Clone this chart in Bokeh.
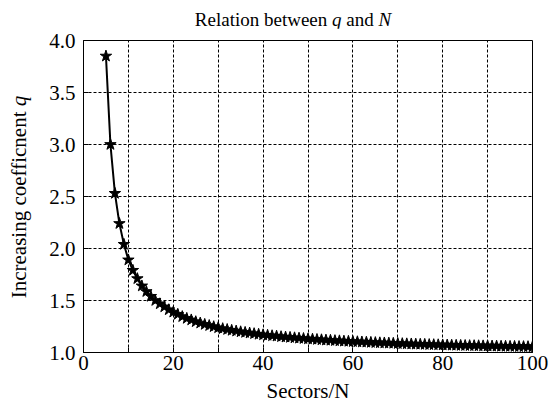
from bokeh.plotting import figure
from bokeh.models import ColumnDataSource, FixedTicker, Div
from bokeh.layouts import column, row
from bokeh.embed import file_html
from bokeh.resources import INLINE

# ---- data ----
sectors = list(range(5, 101))
q_values = [
    3.85, 3.00, 2.53, 2.24, 2.04, 1.89, 1.79, 1.71, 1.64, 1.586,
    1.54, 1.50, 1.468, 1.439, 1.411, 1.388, 1.367, 1.345, 1.328, 1.313,
    1.296, 1.283, 1.270, 1.259, 1.248, 1.238, 1.229, 1.221, 1.213, 1.206,
    1.199, 1.193, 1.187, 1.181, 1.175, 1.170, 1.165, 1.161, 1.157, 1.152,
    1.148, 1.145, 1.141, 1.1375, 1.134, 1.131, 1.128, 1.125, 1.122, 1.119,
    1.117, 1.114, 1.112, 1.109, 1.107, 1.105, 1.103, 1.101, 1.099, 1.097,
    1.095, 1.093, 1.0915, 1.090, 1.088, 1.086, 1.085, 1.083, 1.082, 1.080,
    1.079, 1.078, 1.076, 1.075, 1.074, 1.0725, 1.0715, 1.070, 1.069, 1.068,
    1.067, 1.066, 1.0655, 1.0645, 1.0637, 1.0628, 1.062, 1.061, 1.060, 1.0595,
    1.0587, 1.058, 1.057, 1.0564, 1.0558, 1.055,
]
x_ticks = [0, 10, 20, 30, 40, 50, 60, 70, 80, 90, 100]
x_labels = {0: "0", 10: "", 20: "20", 30: "", 40: "40", 50: "", 60: "60",
            70: "", 80: "80", 90: "", 100: "100"}
y_ticks = [1.0, 1.5, 2.0, 2.5, 3.0, 3.5, 4.0]

title_html = "Relation between <i>q</i> and <i>N</i>"
ylabel_html = "Increasing coefficnent <i>q</i>"
xlabel_text = "Sectors/N"

FONT = "Liberation Serif"

src = ColumnDataSource(data=dict(n=sectors, q=q_values))

p = figure(width=511, height=380, output_backend="svg", toolbar_location=None,
           x_range=(0, 100), y_range=(1.0, 4.0),
           min_border_left=45, min_border_right=17,
           min_border_top=12, min_border_bottom=56)

p.background_fill_color = "white"
p.border_fill_color = "white"
p.outline_line_color = "black"
p.outline_line_width = 1

# grid
for g in (p.xgrid, p.ygrid):
    g.grid_line_color = "black"
    g.grid_line_dash = "3 2"
    g.grid_line_width = 1
    g.grid_line_alpha = 1.0

p.xaxis.ticker = FixedTicker(ticks=x_ticks)
p.xaxis.major_label_overrides = x_labels
p.yaxis.ticker = FixedTicker(ticks=y_ticks)
p.yaxis.major_label_overrides = {v: f"{v:.1f}" for v in y_ticks}

for ax in (p.xaxis, p.yaxis):
    ax.axis_line_color = "black"
    ax.major_tick_line_color = "black"
    ax.major_tick_in = 5
    ax.major_tick_out = 0
    ax.minor_tick_line_color = None
    ax.major_label_text_font = FONT
    ax.major_label_text_font_size = "21px"
    ax.major_label_text_color = "black"
p.xaxis.major_label_standoff = 3
p.yaxis.major_label_standoff = 8

p.xaxis.axis_label = xlabel_text
p.xaxis.axis_label_text_font = FONT
p.xaxis.axis_label_text_font_size = "21px"
p.xaxis.axis_label_text_font_style = "normal"
p.xaxis.axis_label_text_color = "black"
p.xaxis.axis_label_standoff = 6

# data
p.line("n", "q", source=src, line_color="black", line_width=2)
p.scatter("n", "q", source=src, marker="star", size=12,
          fill_color="black", line_color="black")

title_div = Div(
    width=539, height=18,
    text=('<div style="position:absolute; left:288px; top:5px; '
          'transform:translateX(-50%); white-space:nowrap; '
          "font-family:'Liberation Serif'; font-size:19px; line-height:20px; "
          'color:black;">' + title_html + '</div>'),
)

ylabel_div = Div(
    width=28, height=380,
    text=('<div style="position:absolute; left:14px; top:164px; '
          'transform:translate(-50%,-50%) rotate(-90deg); white-space:nowrap; '
          "font-family:'Liberation Serif'; font-size:21px; line-height:22px; "
          'color:black;">' + ylabel_html + '</div>'),
)

layout = column(title_div, row(ylabel_div, p, spacing=0), spacing=0)

open("out.html", "w").write(file_html(layout, INLINE))
